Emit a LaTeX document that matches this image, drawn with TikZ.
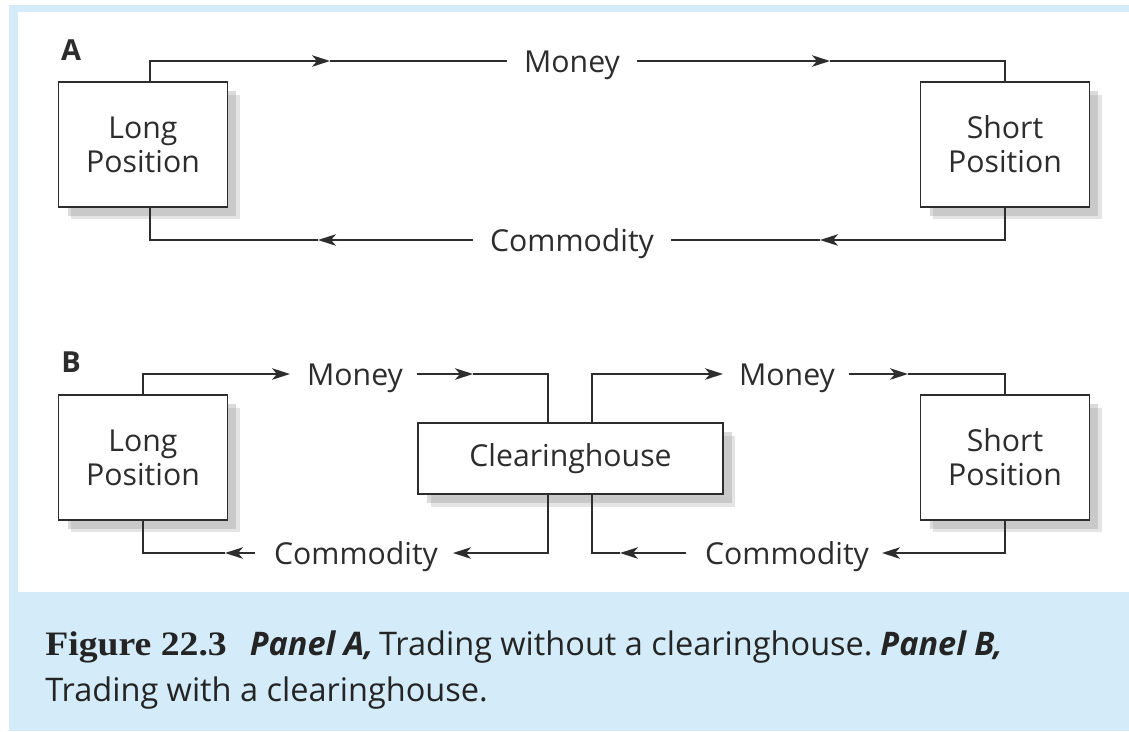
\documentclass[tikz,border=0pt]{standalone}
\usepackage{fontspec}
\setsansfont{Open Sans}
\newfontfamily\figserif[FakeStretch=1.1]{Liberation Serif}
\usetikzlibrary{arrows.meta,calc,shadows}
\definecolor{panelblue}{RGB}{212,236,249}
\definecolor{inkgray}{RGB}{45,45,45}
\newcommand{\lblfont}{\sffamily\fontsize{17.2}{19.3}\selectfont}
\newcommand{\capfont}{\sffamily\fontsize{18.5}{25}\selectfont}
\newcommand{\panelfont}{\sffamily\bfseries\fontsize{16.5}{18}\selectfont}

\begin{document}
\begin{tikzpicture}[x=0.02cm, y=-0.02cm,
  box/.style={draw=inkgray, line width=1.1pt, fill=white, align=center,
    font=\lblfont, text=inkgray, inner sep=0pt,
    drop shadow={shadow xshift=0.25cm, shadow yshift=-0.25cm, fill=black!35, opacity=.3},
    drop shadow={shadow xshift=0.18cm, shadow yshift=-0.18cm, fill=black!40, opacity=.35}},
  posbox/.style={box, minimum width=3.38cm, minimum height=2.5cm},
  flow/.style={draw=inkgray, line width=1pt},
  tip/.style={-{Stealth[length=0.36cm, width=0.23cm, inset=0.1cm]}},
  word/.style={font=\lblfont, text=inkgray, inner ysep=0pt, text height=0.44cm, text depth=0pt}]

\useasboundingbox (0,0) rectangle (1129,731);
\fill[panelblue] (9,5) rectangle (1129,731);
\fill[white] (18,12) rectangle (1129,592);

% Panel A: trading without a clearinghouse
\node[font=\panelfont, text=inkgray] (panelA) at (71,50) {A};
\node[posbox] (longA) at (143,144.5) {Long\\Position};
\node[posbox] (shortA) at (1005,144.5) {Short\\Position};
\node[word, inner xsep=0.34cm] (moneyA) at (572,61) {Money};
\node[word, inner xsep=0.34cm] (commA) at (572,240) {Commodity};

\coordinate (mA1) at (330,61);
\coordinate (mA2) at (830,61);
\coordinate (cA1) at (318,240);
\coordinate (cA2) at (820,240);

\draw[flow, tip] ($(longA.north)+(7,0)$) |- (mA1);
\draw[flow] (mA1) -- (moneyA.west);
\draw[flow, tip] (moneyA.east) -- (mA2);
\draw[flow] (mA2) -| (shortA.north);
\draw[flow, tip] (commA.west) -- (cA1);
\draw[flow] (cA1) -| ($(longA.south)+(7,0)$);
\draw[flow, tip] (shortA.south) |- (cA2);
\draw[flow] (cA2) -- (commA.east);

% Panel B: trading with a clearinghouse
\node[font=\panelfont, text=inkgray] (panelB) at (71,362) {B};
\node[posbox] (longB) at (143,457.5) {Long\\Position};
\node[posbox] (shortB) at (1005,457.5) {Short\\Position};
\node[box, minimum width=6.1cm, minimum height=1.42cm] (clearB) at (570.5,458.5) {Clearinghouse};
\node[word, inner xsep=0.28cm] (moneyBl) at (355,374) {Money};
\node[word, inner xsep=0.28cm] (moneyBr) at (787,374) {Money};
\node[word, inner xsep=0.38cm] (commBl) at (356,553) {Commodity};
\node[word, inner xsep=0.38cm] (commBr) at (787,553) {Commodity};

\coordinate (mBl1) at (290,374);
\coordinate (mBl2) at (473,374);
\coordinate (mBr1) at (723,374);
\coordinate (mBr2) at (908,374);
\coordinate (cBl1) at (225,553);
\coordinate (cBl2) at (453,553);
\coordinate (cBr1) at (620,553);
\coordinate (cBr2) at (882,553);

\draw[flow, tip] (longB.north) |- (mBl1);
\draw[flow, tip] (moneyBl.east) -- (mBl2);
\draw[flow] (mBl2) -| ($(clearB.north)+(-22.5,0)$);
\draw[flow, tip] ($(clearB.north)+(21.5,0)$) |- (mBr1);
\draw[flow, tip] (moneyBr.east) -- (mBr2);
\draw[flow] (mBr2) -| (shortB.north);
\draw[flow, tip] (commBl.west) -- (cBl1);
\draw[flow] (cBl1) -| (longB.south);
\draw[flow, tip] ($(clearB.south)+(-22.5,0)$) |- (cBl2);
\draw[flow, tip] (commBr.west) -- (cBr1);
\draw[flow] (cBr1) -| ($(clearB.south)+(21.5,0)$);
\draw[flow, tip] (shortB.south) |- (cBr2);

% caption
\node[anchor=base west, inner sep=0pt, text=inkgray!80!black] (caption1) at (45,655)
  {{\figserif\bfseries\fontsize{19.5}{25}\selectfont Figure 22.3}\hspace{0.46cm}%
   {\capfont\bfseries\itshape Panel A,} {\capfont Trading without a clearinghouse.}
   {\capfont\bfseries\itshape Panel B,}};
\node[anchor=base west, inner sep=0pt, text=inkgray!80!black, font=\capfont] (caption2) at (45,701)
  {Trading with a clearinghouse.};

\end{tikzpicture}
\end{document}
